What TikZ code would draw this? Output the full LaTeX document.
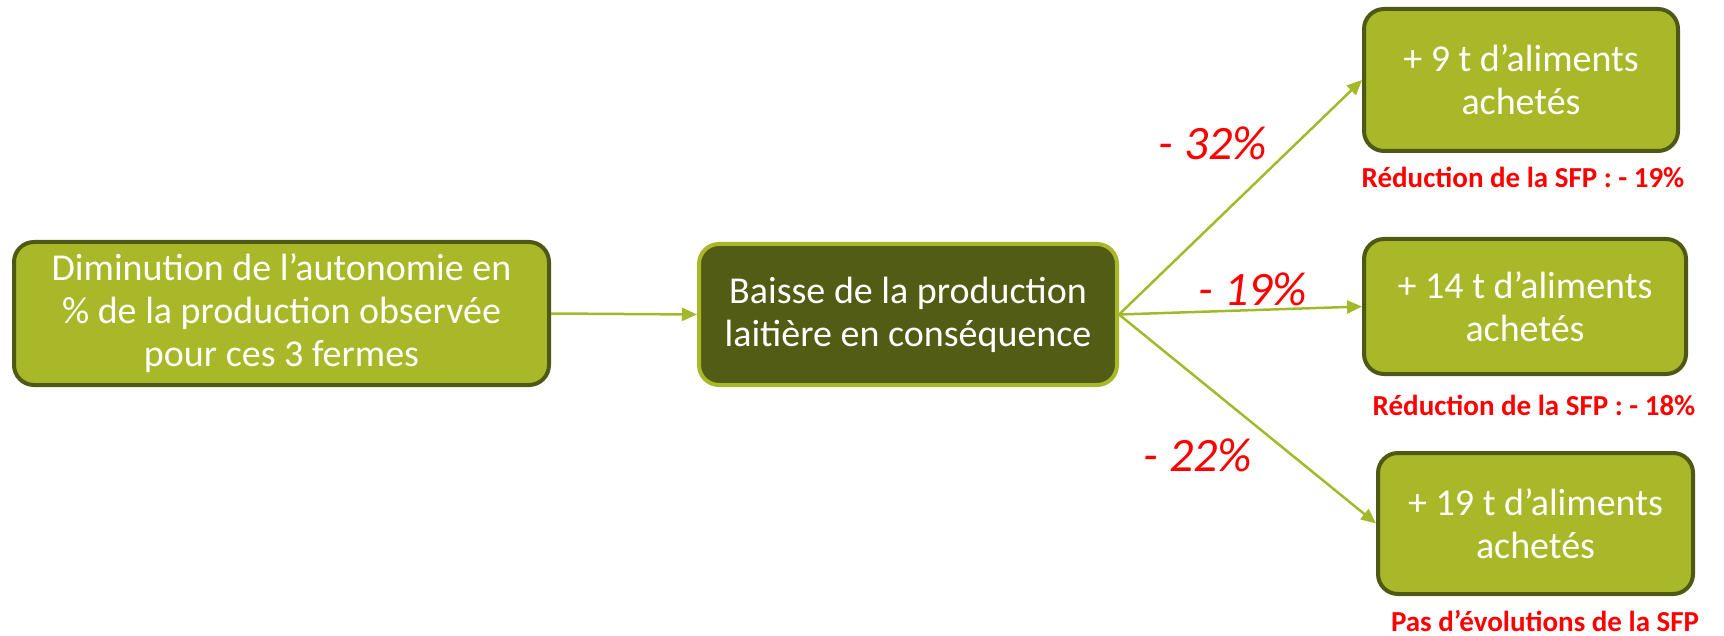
\documentclass[tikz,border=0pt]{standalone}
\usepackage{fontspec}
\setmainfont{Carlito}
\usetikzlibrary{arrows.meta}
\definecolor{lgreen}{RGB}{168,184,40}
\definecolor{dgreen}{RGB}{79,88,20}
\definecolor{dfill}{RGB}{82,92,20}
\definecolor{agreen}{RGB}{164,184,44}
\definecolor{lred}{RGB}{255,0,0}
\tikzset{
  lbox/.style={draw=dgreen, fill=lgreen, line width=4pt, rounded corners=20pt,
    text=white, align=center, inner sep=0pt,
    font=\fontsize{38}{43}\selectfont},
  dbox/.style={draw=lgreen, fill=dfill, line width=4pt, rounded corners=20pt,
    text=white, align=center, inner sep=0pt,
    font=\fontsize{38}{43}\selectfont},
  conn/.style={draw=agreen, line width=2.5pt, -{Triangle[length=15pt,width=13pt]}},
  pct/.style={text=lred, font=\fontsize{48}{56}\itshape},
  note/.style={text=lred, font=\fontsize{29}{34}\selectfont\bfseries},
}
\begin{document}
\begin{tikzpicture}[x=1pt,y=-1pt]
\useasboundingbox (0,0) rectangle (1724,636);
\node[lbox, minimum width=535pt, minimum height=143pt] (b1) at (281.5,313.5)
  {Diminution de l’autonomie en\\\% de la production observée\\pour ces 3 fermes};
\node[dbox, minimum width=418pt, minimum height=141pt] (b2) at (908,314.5)
  {Baisse de la production\\laitière en conséquence};
\node[lbox, minimum width=314pt, minimum height=142pt] (b3) at (1521,80)
  {+ 9 t d’aliments\\achetés};
\node[lbox, minimum width=322pt, minimum height=135pt] (b4) at (1525,306.5)
  {+ 14 t d’aliments\\achetés};
\node[lbox, minimum width=315pt, minimum height=141pt] (b5) at (1535.5,523.5)
  {+ 19 t d’aliments\\achetés};
\node[note] (n3) at (1523,177) {Réduction de la SFP : - 19\%};
\node[note] (n4) at (1534,405) {Réduction de la SFP : - 18\%};
\node[note] (n5) at (1545,621) {Pas d’évolutions de la SFP};
\node[pct] (p3) at (1213,143) {- 32\%};
\node[pct] (p4) at (1253,289) {- 19\%};
\node[pct] (p5) at (1198,455) {- 22\%};
\draw[conn] (b1.east) -- (b2.west);
\draw[conn] (b2.east) -- (b3.west);
\draw[conn] (b2.east) -- (b4.west);
\draw[conn] (b2.east) -- (b5.west);
\end{tikzpicture}
\end{document}
